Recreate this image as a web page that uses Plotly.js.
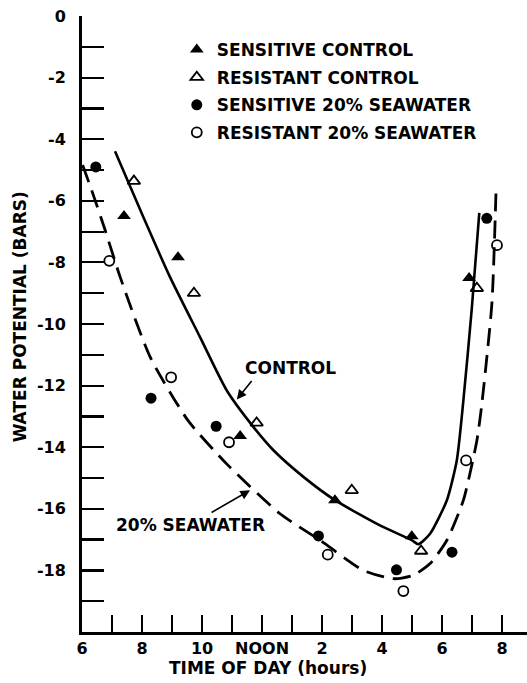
<!DOCTYPE html>
<html>
<head>
<meta charset="utf-8">
<script src="https://cdn.plot.ly/plotly-3.0.1.min.js"></script>
<style>
  html, body { margin: 0; padding: 0; background: #fff; }
  #chart { width: 527px; height: 683px; }
</style>
</head>
<body>
<div id="chart"></div>
<script>
// Fitted curve: control (solid)
const controlCurveX = [7.10, 8.04, 8.93, 9.93, 10.82, 11.71, 12.38, 13.4, 14.43, 15.93, 16.99, 17.21, 17.6, 18.16, 18.49, 18.71, 18.99, 19.24];
const controlCurveY = [-4.39, -6.52, -8.47, -10.42, -12.15, -13.34, -14.10, -14.98, -15.72, -16.54, -17.02, -17.15, -16.81, -15.72, -14.43, -12.48, -9.5, -6.39];

// Fitted curve: 20% seawater (dashed)
const seawaterCurveX = [6.02, 6.32, 6.77, 7.27, 8.27, 9.53, 10.87, 12.6, 13.93, 15.38, 16.38, 17.04, 17.6, 18.16, 18.71, 19.16, 19.32, 19.66, 19.80];
const seawaterCurveY = [-4.84, -5.65, -6.95, -8.47, -11.07, -13.13, -14.59, -16.16, -17.02, -18.0, -18.27, -18.16, -17.78, -17.02, -15.72, -13.78, -12.64, -9.33, -5.60];

// Observations
const sensControlX = [7.4, 9.2, 11.27, 14.43, 16.99, 18.9];
const sensControlY = [-6.49, -7.83, -13.64, -15.72, -16.89, -8.51];

const resControlX = [7.73, 9.73, 11.82, 14.99, 17.3, 19.16];
const resControlY = [-5.36, -9.0, -13.21, -15.4, -17.37, -8.84];

const sensSeaX = [6.46, 8.3, 10.47, 13.88, 16.48, 18.33, 19.49];
const sensSeaY = [-4.9, -12.41, -13.32, -16.88, -17.98, -17.41, -6.57];

const resSeaX = [6.91, 8.97, 10.9, 14.19, 16.71, 18.8, 19.83];
const resSeaY = [-7.95, -11.73, -13.84, -17.49, -18.67, -14.43, -7.44];

// Tick labels
const xTickVals = [6, 7, 8, 9, 10, 11, 12, 13, 14, 15, 16, 17, 18, 19, 20];
const xTickText = ['6', '', '8', '', '10', '', 'NOON', '', '2', '', '4', '', '6', '', '8'];
const yTickVals = [0, -1, -2, -3, -4, -5, -6, -7, -8, -9, -10, -11, -12, -13, -14, -15, -16, -17, -18, -19];
const yTickText = ['0', '', '-2', '', '-4', '', '-6', '', '-8', '', '-10', '', '-12', '', '-14', '', '-16', '', '-18', ''];

const FONT = 'DejaVu Sans, Liberation Sans, Arial, sans-serif';
const boldFont = (size) => ({ family: FONT, size: size, color: '#000', weight: 'bold' });

const traces = [
  { x: controlCurveX, y: controlCurveY, mode: 'lines', line: { color: '#000', width: 2.6, shape: 'spline', smoothing: 0.6 }, showlegend: false, hoverinfo: 'skip' },
  { x: seawaterCurveX, y: seawaterCurveY, mode: 'lines', line: { color: '#000', width: 2.8, shape: 'spline', smoothing: 0.6, dash: '18px,9px' }, showlegend: false, hoverinfo: 'skip' },
  { x: sensControlX, y: sensControlY, mode: 'markers', name: 'SENSITIVE CONTROL', legendgroup: 'a',
    marker: { symbol: 'triangle-up', size: 12, color: '#000' } },
  { x: resControlX, y: resControlY, mode: 'markers', name: 'RESISTANT CONTROL', legendgroup: 'b',
    marker: { symbol: 'triangle-up-open', size: 11, color: '#000', line: { width: 1.8, color: '#000' } } },
  { x: sensSeaX, y: sensSeaY, mode: 'markers', name: 'SENSITIVE 20% SEAWATER', legendgroup: 'c',
    marker: { symbol: 'circle', size: 11, color: '#000' } },
  { x: resSeaX, y: resSeaY, mode: 'markers', name: 'RESISTANT 20% SEAWATER', legendgroup: 'd',
    marker: { symbol: 'circle-open', size: 10, color: '#000', line: { width: 1.8, color: '#000' } } }
];

const layout = {
  width: 527, height: 683,
  margin: { l: 82, r: 0, t: 16, b: 51, pad: 0 },
  paper_bgcolor: '#fff', plot_bgcolor: '#fff',
  font: boldFont(16),
  showlegend: true,
  legend: {
    x: 0.213, y: 0.974, xanchor: 'left', yanchor: 'top',
    font: boldFont(17), bgcolor: 'rgba(0,0,0,0)', borderwidth: 0,
    tracegroupgap: 2.5, traceorder: 'grouped', itemwidth: 30
  },
  xaxis: {
    range: [6, 20.83], autorange: false,
    showline: true, linecolor: '#000', linewidth: 3,
    showgrid: false, zeroline: false,
    ticks: 'inside', ticklen: 17, tickwidth: 2.2, tickcolor: '#000',
    tickmode: 'array', tickvals: xTickVals, ticktext: xTickText,
    tickfont: boldFont(16), ticklabelstandoff: 0,
    automargin: false
  },
  yaxis: {
    range: [-20, 0], autorange: false,
    showline: true, linecolor: '#000', linewidth: 3,
    showgrid: false, zeroline: false,
    ticks: 'inside', ticklen: 22, tickwidth: 2.2, tickcolor: '#000',
    tickmode: 'array', tickvals: yTickVals, ticktext: yTickText,
    tickfont: boldFont(16), ticklabelstandoff: 10,
    automargin: false
  },
  annotations: [
    { text: 'WATER POTENTIAL (BARS)', xref: 'paper', yref: 'paper', x: -0.139, y: 0.511,
      xanchor: 'center', yanchor: 'middle',
      textangle: -90, showarrow: false, font: boldFont(17) },
    { text: 'TIME OF DAY (hours)', xref: 'paper', yref: 'paper', x: 0.418, y: -0.059,
      xanchor: 'center', yanchor: 'middle',
      showarrow: false, font: boldFont(17) },
    { text: 'CONTROL', xref: 'x', yref: 'y', x: 12.95, y: -11.42, showarrow: false, font: boldFont(17) },
    { text: '', xref: 'x', yref: 'y', x: 11.16, y: -12.45, showarrow: true, ax: 16, ay: -20,
      arrowhead: 2, arrowsize: 1.2, arrowwidth: 1.6, arrowcolor: '#000' },
    { text: '20% SEAWATER', xref: 'x', yref: 'y', x: 9.63, y: -16.54, showarrow: false, font: boldFont(17) },
    { text: '', xref: 'x', yref: 'y', x: 11.6, y: -15.4, showarrow: true, ax: -40, ay: 23,
      arrowhead: 2, arrowsize: 1.2, arrowwidth: 1.6, arrowcolor: '#000' }
  ]
};

Plotly.newPlot('chart', traces, layout, { staticPlot: true, displayModeBar: false });
</script>
</body>
</html>
